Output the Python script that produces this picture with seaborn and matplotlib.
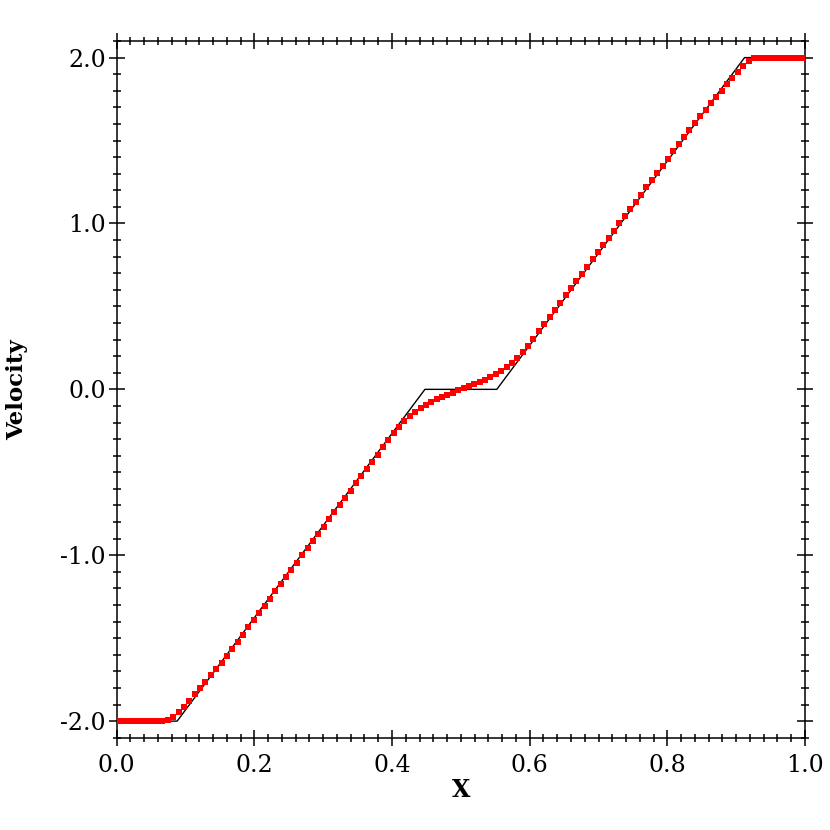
import numpy as np
import pandas as pd
import matplotlib
matplotlib.use("Agg")
import matplotlib.pyplot as plt
import seaborn as sns
from matplotlib.ticker import MultipleLocator, FormatStrFormatter

# exact solution vertices
exact_x = [0.0, 0.0878, 0.4478, 0.5522, 0.9122, 1.0]
exact_u = [-2.0, -2.0, 0.0, 0.0, 2.0, 2.0]

# numerical solution (128 cells)
n_cells = 128
num_u = [
    -2.000, -2.000, -2.000, -2.000, -2.000, -2.000, -2.000, -2.000,
    -1.999, -1.995, -1.978, -1.948, -1.912, -1.876, -1.838, -1.800,
    -1.762, -1.725, -1.686, -1.647, -1.608, -1.565, -1.521, -1.478,
    -1.434, -1.391, -1.348, -1.304, -1.261, -1.217, -1.174, -1.131,
    -1.087, -1.044, -1.000, -0.957, -0.914, -0.870, -0.827, -0.783,
    -0.740, -0.697, -0.653, -0.610, -0.566, -0.523, -0.480, -0.436,
    -0.393, -0.349, -0.306, -0.264, -0.225, -0.190, -0.160, -0.135,
    -0.112, -0.092, -0.075, -0.059, -0.045, -0.032, -0.019, -0.006,
    0.006, 0.019, 0.032, 0.045, 0.059, 0.075, 0.092, 0.112,
    0.135, 0.160, 0.190, 0.225, 0.264, 0.306, 0.349, 0.393,
    0.436, 0.480, 0.523, 0.566, 0.610, 0.653, 0.697, 0.740,
    0.783, 0.827, 0.870, 0.914, 0.957, 1.000, 1.044, 1.087,
    1.131, 1.174, 1.217, 1.261, 1.304, 1.348, 1.391, 1.434,
    1.478, 1.521, 1.565, 1.608, 1.647, 1.686, 1.725, 1.762,
    1.800, 1.838, 1.876, 1.912, 1.948, 1.978, 1.995, 1.999,
    2.000, 2.000, 2.000, 2.000, 2.000, 2.000, 2.000, 2.000,
]
num_x = [(i + 0.5) / n_cells for i in range(n_cells)]

x_ticks = [0.0, 0.2, 0.4, 0.6, 0.8, 1.0]
y_ticks = [-2.0, -1.0, 0.0, 1.0, 2.0]

sns.set_style("white")
plt.rcParams['font.family'] = ['DejaVu Serif']
plt.rcParams['text.color'] = 'black'
plt.rcParams['axes.labelcolor'] = 'black'
plt.rcParams['xtick.color'] = 'black'
plt.rcParams['ytick.color'] = 'black'

fig = plt.figure(figsize=(8.3, 8.3), dpi=100)
ax = fig.add_axes([0.1406, 0.1112, 0.8293, 0.8394])

df_exact = pd.DataFrame({"x": exact_x, "u": exact_u})
df_num = pd.DataFrame({"x": num_x, "u": num_u})

sns.lineplot(data=df_exact, x="x", y="u", ax=ax, color="black", linewidth=1.0,
             sort=False, estimator=None, zorder=2)
sns.scatterplot(data=df_num, x="x", y="u", ax=ax, color="#ff0000", marker="s",
                s=22, linewidth=0, zorder=3)

ax.set_xlim(0.0, 1.0)
ax.set_ylim(-2.1, 2.1)
ax.set_xticks(x_ticks)
ax.set_yticks(y_ticks)
ax.xaxis.set_major_formatter(FormatStrFormatter('%.1f'))
ax.yaxis.set_major_formatter(FormatStrFormatter('%.1f'))
ax.xaxis.set_minor_locator(MultipleLocator(0.02))
ax.yaxis.set_minor_locator(MultipleLocator(0.1))

ax.tick_params(which='both', direction='inout', top=True, right=True,
               bottom=True, left=True, width=1.1, color='black',
               labelcolor='black')
ax.tick_params(which='major', length=11.5, labelsize=17)
ax.tick_params(axis='x', which='major', pad=6)
ax.tick_params(axis='y', which='major', pad=2)
ax.tick_params(which='minor', length=5.8)

for sp in ax.spines.values():
    sp.set_linewidth(1.1)
    sp.set_color('black')

ax.set_xlabel("X", fontsize=17, fontweight='bold', labelpad=0.5, color='black')
ax.set_ylabel("Velocity", fontsize=16.5, fontweight='bold', labelpad=23, color='black')

fig.savefig("out.png", dpi=100)
